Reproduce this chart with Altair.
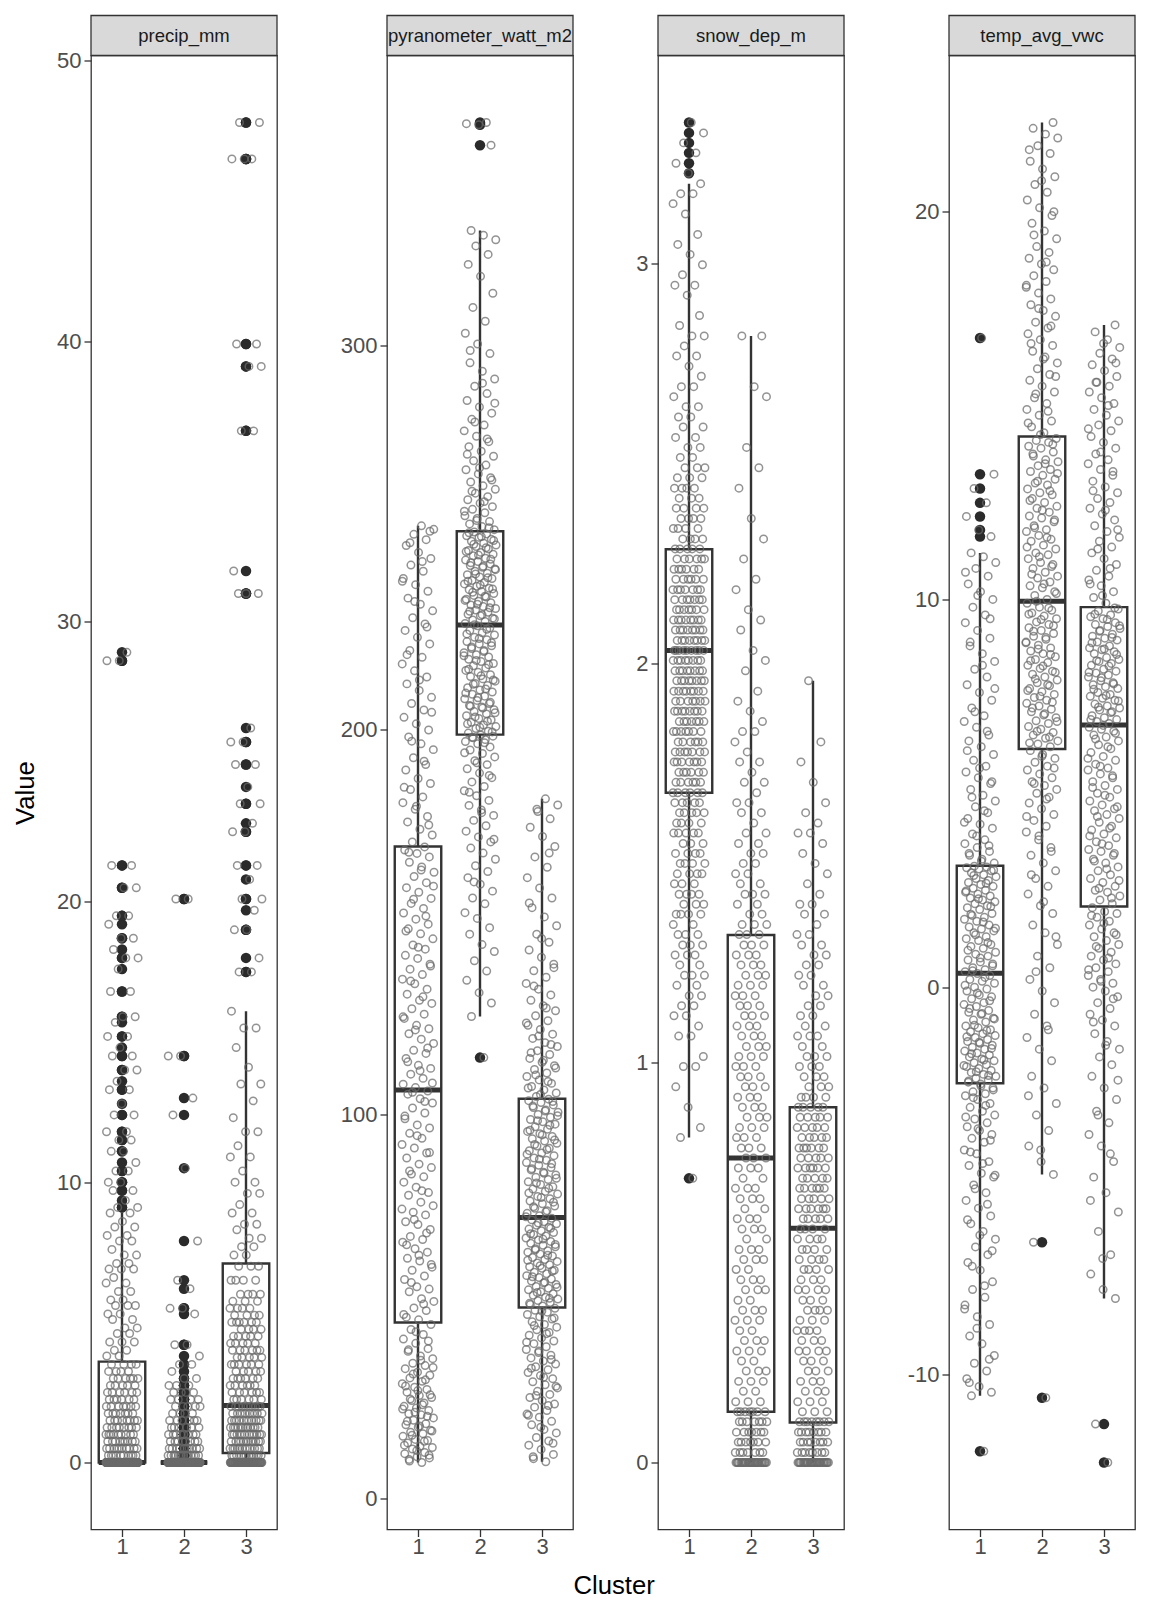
import altair as alt
import pandas as pd

variables = ["precip_mm", "pyranometer_watt_m2", "snow_dep_m", "temp_avg_vwc"]
clusters = [1, 2, 3]

y_ticks = {
    "precip_mm": [0, 10, 20, 30, 40, 50],
    "pyranometer_watt_m2": [0, 100, 200, 300],
    "snow_dep_m": [0, 1, 2, 3],
    "temp_avg_vwc": [-10, 0, 10, 20],
}

# boxplot statistics per variable, for clusters 1, 2, 3
whisker_low = {
    "precip_mm": [0, 0, 0],
    "pyranometer_watt_m2": [9.4, 125.4, 9.6],
    "snow_dep_m": [0.813, 0, 0],
    "temp_avg_vwc": [-10.54, -4.83, -8.03],
}
q1 = {
    "precip_mm": [0, 0, 0.34],
    "pyranometer_watt_m2": [45.8, 198.7, 49.7],
    "snow_dep_m": [1.676, 0.127, 0.100],
    "temp_avg_vwc": [-2.48, 6.14, 2.08],
}
median = {
    "precip_mm": [0, 0, 2.03],
    "pyranometer_watt_m2": [106.3, 227.2, 73.1],
    "snow_dep_m": [2.032, 0.762, 0.586],
    "temp_avg_vwc": [0.36, 9.95, 6.76],
}
q3 = {
    "precip_mm": [3.6, 0, 7.1],
    "pyranometer_watt_m2": [169.6, 251.6, 104.0],
    "snow_dep_m": [2.285, 1.320, 0.889],
    "temp_avg_vwc": [3.13, 14.2, 9.8],
}
whisker_high = {
    "precip_mm": [8.9, 0, 16.1],
    "pyranometer_watt_m2": [253.0, 329.8, 182.0],
    "snow_dep_m": [3.200, 2.819, 1.956],
    "temp_avg_vwc": [11.2, 22.3, 17.08],
}


def rep(pairs):
    out = []
    for v, n in pairs:
        out += [v] * n
    return out


precip_c1 = rep([(0, 200), (0.25, 10), (0.5, 10), (0.75, 9), (1.0, 9), (1.25, 8), (1.5, 8),
                 (1.75, 7), (2.0, 7), (2.25, 6), (2.5, 6), (2.75, 5), (3.0, 6), (3.25, 4),
                 (3.5, 4), (3.8, 2), (4.0, 2), (4.3, 3), (4.6, 2), (4.8, 2), (5.1, 2), (5.3, 2),
                 (5.6, 3), (5.8, 2), (6.1, 2), (6.4, 2), (6.6, 1), (6.9, 3), (7.1, 2), (7.4, 2),
                 (7.6, 1), (7.9, 2), (8.1, 2), (8.4, 2), (8.6, 1), (8.9, 2), (9.1, 2), (9.35, 1),
                 (9.7, 2), (10.0, 2), (10.4, 2), (10.7, 1), (11.1, 2), (11.5, 2), (11.8, 2),
                 (12.4, 2), (12.8, 1), (13.3, 2), (13.6, 1), (14.0, 2), (14.5, 2), (14.8, 1),
                 (15.2, 2), (15.7, 1), (15.9, 2), (16.8, 2), (17.6, 1), (18.0, 2), (18.3, 1),
                 (18.7, 2), (19.2, 1), (19.5, 2), (20.5, 2), (21.3, 2), (28.6, 2), (28.9, 1)])
precip_c2 = rep([(0, 320), (0.25, 14), (0.5, 10), (0.75, 8), (1.0, 8), (1.25, 6), (1.5, 6),
                 (1.75, 4), (2.0, 5), (2.25, 4), (2.5, 4), (2.75, 3), (3.0, 2), (3.25, 1),
                 (3.5, 2), (3.8, 1), (4.2, 2), (5.3, 1), (5.5, 2), (6.2, 1), (6.5, 1), (7.9, 1),
                 (10.5, 1), (12.4, 1), (13.0, 1), (14.5, 2), (20.1, 2)])
precip_c3 = rep([(0, 70), (0.25, 12), (0.5, 12), (0.75, 12), (1.0, 12), (1.25, 12), (1.5, 11),
                 (1.75, 10), (2.0, 10), (2.25, 6), (2.5, 6), (2.75, 6), (3.0, 6), (3.25, 5),
                 (3.5, 6), (3.75, 5), (4.0, 6), (4.25, 5), (4.5, 5), (4.75, 4), (5.0, 6),
                 (5.25, 4), (5.5, 4), (5.75, 3), (6.0, 4), (6.5, 4), (7.0, 3), (7.4, 2), (7.7, 2),
                 (8.0, 2), (8.3, 1), (8.5, 2), (8.9, 2), (9.2, 1), (9.6, 2), (10.0, 2), (10.4, 1),
                 (10.9, 2), (11.3, 1), (11.8, 2), (12.3, 1), (12.9, 1), (13.5, 2), (14.1, 1),
                 (14.8, 1), (15.5, 2), (16.1, 1), (17.5, 2), (18.0, 1), (19.0, 2), (19.7, 1),
                 (20.1, 2), (20.8, 1), (21.3, 2), (22.5, 2), (22.8, 1), (23.5, 2), (24.1, 1),
                 (24.9, 2), (25.7, 2), (26.2, 1), (31.0, 3), (31.8, 1), (36.8, 2), (39.1, 2),
                 (39.9, 2), (46.5, 3), (47.8, 2)])

pyr_c1 = [9.4, 9.8, 10.6, 10.9, 11.7, 12.0, 12.9, 13.3, 13.6, 14.5, 15.1, 15.4, 16.2, 16.9,
          17.3, 17.8, 18.6, 19.2, 19.5, 20.4, 21.0, 21.8, 22.1, 22.9, 23.6, 24.0, 24.9, 25.5,
          26.3, 26.8, 27.7, 28.4, 29.0, 29.9, 30.5, 31.4, 32.1, 32.9, 33.8, 34.6, 35.2, 36.4,
          37.1, 38.3, 39.0, 40.4, 41.5, 42.7, 44.0, 45.3,
          46.5, 47.2, 48.9, 49.6, 51.3, 52.0, 53.8, 54.5, 55.1, 57.0, 57.9, 59.4, 60.2, 61.8,
          62.5, 64.1, 65.0, 66.7, 67.4, 68.2, 70.0, 71.3, 72.0, 73.8, 74.5, 76.2, 77.1, 78.9,
          79.6, 81.0, 82.3, 83.7, 84.4, 86.1, 87.0, 88.6, 89.9, 91.2, 92.1, 93.7, 95.0, 96.4,
          97.2, 98.8, 100.3, 101.6, 102.9, 104.0, 105.2, 106.0,
          106.9, 107.8, 109.3, 110.4, 111.9, 112.7, 114.5, 115.8, 116.6, 118.4, 119.5, 120.9,
          122.2, 123.1, 124.9, 126.0, 127.4, 128.8, 129.6, 131.2, 132.5, 133.9, 135.1, 136.3,
          137.7, 139.0, 140.5, 141.3, 142.9, 144.0, 145.6, 146.9, 148.2, 149.4, 150.7, 152.3,
          153.5, 154.8, 156.1, 157.7, 158.9, 160.2, 161.8, 162.9, 164.3, 165.5, 166.9, 167.8,
          168.7, 169.5,
          170.8, 172.6, 174.1, 176.0, 177.4, 179.3, 181.0, 182.5, 184.4, 186.0, 187.3, 189.5,
          190.9, 192.7, 194.8, 196.3, 198.1, 199.9, 201.5, 203.2, 205.1, 206.8, 208.4, 210.2,
          211.9, 213.7, 215.3, 217.1, 218.8, 220.6, 222.3, 224.0, 225.8, 227.5, 229.1, 230.9,
          232.6, 234.2, 236.0, 237.7, 239.3, 241.2, 242.8, 244.5, 246.1, 247.9, 249.4, 250.8,
          252.1, 253.0,
          10.2, 11.3, 12.5, 13.9, 14.9, 16.5, 17.6, 18.9, 20.1, 21.4, 22.5, 23.3, 24.4, 25.9,
          27.0, 28.1, 29.3, 30.9, 32.4, 34.1, 36.0, 38.7, 41.0, 43.4, 47.9, 50.6, 56.2, 60.9,
          63.3, 66.0, 69.1, 72.6, 75.3, 80.1, 85.2, 90.0, 94.4, 99.5, 103.3, 105.7, 108.1,
          111.3, 113.6, 117.2, 121.9, 125.3, 130.5, 134.6, 138.5, 143.4, 147.6, 151.5, 155.9,
          159.3, 163.5, 168.1, 175.2, 180.1, 185.0, 191.8, 197.0, 204.5, 212.9, 219.5, 226.7,
          233.3, 238.6, 243.7, 248.6, 251.6]
pyr_c2 = [114.7, 125.4, 128.9, 131.6, 134.8, 137.2, 139.9, 142.3, 144.1, 146.8, 148.5, 150.9,
          152.4, 154.7, 156.2, 158.0, 159.8, 161.5, 163.1, 164.6, 166.3, 167.9, 169.2, 170.8,
          172.1, 173.6, 175.0, 176.4, 177.7, 179.1, 180.3, 181.6, 182.8, 184.1, 185.2, 186.4,
          187.5, 188.7, 189.8, 190.9, 191.9, 192.9, 193.8, 194.7, 195.5, 196.3, 196.9, 197.4,
          197.9, 198.3, 198.6,
          199.1, 199.6, 200.3, 200.8, 201.2, 201.9, 202.5, 202.9, 203.6, 204.1, 204.7, 205.2,
          205.9, 206.3, 206.8, 207.6, 208.0, 208.7, 209.2, 209.8, 210.3, 210.9, 211.5, 212.0,
          212.6, 213.2, 213.8, 214.3, 214.9, 215.4, 216.0, 216.6, 217.2, 217.7, 218.3, 218.9,
          219.5, 220.0, 220.6, 221.1, 221.8, 222.3, 222.9, 223.4, 224.0, 224.6, 225.2, 225.8,
          226.4, 227.0,
          227.6, 228.1, 228.5, 229.0, 229.6, 230.0, 230.5, 231.1, 231.5, 232.0, 232.4, 233.0,
          233.4, 233.9, 234.5, 234.9, 235.4, 235.9, 236.4, 236.8, 237.3, 237.9, 238.3, 238.8,
          239.3, 239.7, 240.3, 240.7, 241.2, 241.8, 242.2, 242.7, 243.1, 243.7, 244.1, 244.6,
          245.2, 245.6, 246.1, 246.6, 247.0, 247.6, 248.0, 248.5, 249.0, 249.5, 250.0, 250.4,
          250.9, 251.4,
          252.0, 252.8, 253.5, 254.1, 254.9, 255.6, 256.4, 257.3, 258.0, 258.9, 259.8, 260.6,
          261.5, 262.5, 263.4, 264.4, 265.5, 266.5, 267.6, 268.8, 269.9, 271.1, 272.4, 273.6,
          274.9, 276.3, 277.7, 279.2, 280.7, 282.3, 283.9, 285.6, 287.4, 289.3, 291.2, 293.2,
          295.4, 297.8, 300.3, 303.1, 306.2, 309.8, 313.5, 317.9, 321.0, 323.6, 325.8, 327.4,
          328.6, 329.8, 352.0, 357.3, 357.6, 357.9,
          160.4, 171.5, 178.4, 183.7, 188.1, 191.4, 194.0, 196.6, 198.0, 199.4, 200.6, 201.5,
          202.2, 203.3, 204.4, 205.6, 206.1, 207.1, 208.3, 209.5, 210.6, 211.8, 212.9, 214.0,
          215.7, 216.9, 218.0, 219.2, 220.3, 221.5, 222.6, 223.7, 224.9, 226.1, 227.3, 228.8,
          229.9, 230.8, 231.7, 232.6, 233.6, 234.7, 235.7, 236.6, 237.6, 238.6, 239.5, 240.5,
          241.6, 242.5, 243.4, 244.3, 245.4, 246.3, 247.3, 248.2, 249.2, 250.2, 251.2, 252.5,
          254.4, 256.8, 259.3, 262.0, 264.9, 268.1, 271.6, 275.6, 280.0, 284.9, 290.1, 298.6]
pyr_c3 = [9.6, 10.4, 11.5, 12.8, 13.9, 15.0, 15.9, 17.1, 18.0, 19.2, 20.1, 21.2, 22.0, 22.9,
          23.8, 24.6, 25.5, 26.3, 27.1, 27.9, 28.8, 29.6, 30.4, 31.2, 32.0, 32.8, 33.5, 34.3,
          35.0, 35.8, 36.6, 37.3, 38.0, 38.8, 39.5, 40.3, 41.0, 41.8, 42.5, 43.2, 43.9, 44.6,
          45.3, 46.0, 46.7, 47.3, 47.9, 48.5, 49.0, 49.5,
          50.1, 50.5, 51.0, 51.5, 51.9, 52.4, 52.9, 53.3, 53.8, 54.3, 54.7, 55.2, 55.7, 56.1,
          56.6, 57.1, 57.5, 58.0, 58.5, 58.9, 59.4, 59.9, 60.3, 60.8, 61.3, 61.7, 62.2, 62.7,
          63.1, 63.6, 64.1, 64.5, 65.0, 65.5, 65.9, 66.4, 66.9, 67.3, 67.8, 68.3, 68.7, 69.2,
          69.7, 70.1, 70.6, 71.1, 71.5, 72.0, 72.5, 72.9,
          73.6, 74.2, 74.9, 75.5, 76.1, 76.7, 77.4, 78.0, 78.6, 79.2, 79.9, 80.5, 81.1, 81.7,
          82.4, 83.0, 83.6, 84.2, 84.9, 85.5, 86.1, 86.7, 87.4, 88.0, 88.6, 89.2, 89.9, 90.5,
          91.1, 91.7, 92.4, 93.0, 93.6, 94.2, 94.9, 95.5, 96.1, 96.7, 97.4, 98.0, 98.6, 99.2,
          99.9, 100.5, 101.1, 101.7, 102.4, 103.0, 103.5, 103.9,
          104.6, 105.5, 106.3, 107.2, 108.0, 108.9, 109.8, 110.7, 111.6, 112.6, 113.5, 114.5,
          115.5, 116.5, 117.6, 118.6, 119.7, 120.8, 122.0, 123.1, 124.3, 125.6, 126.9, 128.2,
          129.6, 131.0, 132.5, 134.0, 135.6, 137.3, 139.0, 140.8, 142.7, 144.7, 146.8, 149.0,
          151.3, 153.7, 156.2, 158.8, 161.5, 164.2, 166.9, 169.6, 172.2, 174.6, 176.8, 178.7,
          180.4, 182.0,
          10.9, 14.4, 18.6, 21.7, 24.2, 26.8, 29.2, 31.6, 33.9, 36.2, 38.4, 40.7, 42.9, 45.0,
          47.0, 48.8, 50.8, 52.1, 53.6, 55.0, 56.3, 57.7, 59.2, 60.6, 62.0, 63.3, 64.7, 66.1,
          67.5, 68.9, 70.3, 71.7, 73.3, 74.6, 75.9, 77.1, 78.3, 79.5, 80.7, 82.1, 83.3, 84.6,
          85.8, 87.1, 88.3, 89.6, 90.8, 92.1, 93.3, 94.6, 95.8, 97.1, 98.3, 99.6, 100.8, 102.1,
          103.3, 105.1, 106.8, 108.5, 110.2, 112.0, 114.0, 116.0, 118.1, 120.3, 123.7, 127.6,
          133.3, 138.1, 145.7, 154.9, 167.9, 179.3]

snow_c1 = rep([(0.711, 1), (0.813, 1), (0.838, 1), (0.889, 1), (0.940, 1), (0.991, 2),
               (1.016, 1), (1.067, 2), (1.092, 1), (1.118, 2), (1.143, 2), (1.168, 2),
               (1.194, 2), (1.219, 3), (1.245, 2), (1.270, 3), (1.295, 3), (1.321, 3),
               (1.346, 2), (1.372, 4), (1.397, 3), (1.422, 4), (1.448, 3), (1.473, 4),
               (1.499, 4), (1.524, 4), (1.549, 3), (1.575, 5), (1.600, 4), (1.626, 5),
               (1.651, 5), (1.676, 6), (1.702, 6), (1.727, 6), (1.753, 7), (1.778, 7),
               (1.803, 6), (1.829, 7), (1.854, 7), (1.880, 8), (1.905, 7), (1.930, 8),
               (1.956, 8), (1.981, 8), (2.007, 8), (2.032, 9), (2.057, 8), (2.083, 8),
               (2.108, 8), (2.134, 7), (2.159, 7), (2.184, 7), (2.210, 6), (2.235, 6),
               (2.261, 6), (2.286, 5), (2.311, 4), (2.337, 4), (2.362, 4), (2.388, 4),
               (2.413, 3), (2.438, 4), (2.464, 3), (2.489, 3), (2.515, 2), (2.540, 2),
               (2.565, 2), (2.591, 2), (2.616, 2), (2.642, 2), (2.667, 1), (2.692, 2),
               (2.718, 1), (2.743, 1), (2.769, 2), (2.794, 1), (2.819, 2), (2.845, 1),
               (2.870, 1), (2.921, 1), (2.946, 2), (2.972, 1), (2.997, 1), (3.023, 1),
               (3.048, 1), (3.073, 1), (3.124, 1), (3.150, 1), (3.175, 2), (3.200, 1),
               (3.226, 1), (3.251, 1), (3.277, 1), (3.302, 1), (3.327, 1), (3.353, 1)])
snow_c2 = rep([(0, 30), (0.025, 7), (0.051, 7), (0.076, 7), (0.102, 7), (0.127, 7),
               (0.152, 3), (0.178, 2), (0.203, 3), (0.229, 3), (0.254, 2), (0.279, 3),
               (0.305, 3), (0.330, 2), (0.356, 3), (0.381, 3), (0.406, 2), (0.432, 3),
               (0.457, 3), (0.483, 2), (0.508, 3), (0.533, 3), (0.559, 2), (0.584, 3),
               (0.610, 3), (0.635, 2), (0.660, 3), (0.686, 3), (0.711, 2), (0.737, 3),
               (0.762, 3), (0.787, 3), (0.813, 3), (0.838, 3), (0.864, 3), (0.889, 3),
               (0.914, 3), (0.940, 3), (0.965, 3), (0.991, 3), (1.016, 3), (1.041, 3),
               (1.067, 3), (1.092, 3), (1.118, 3), (1.143, 3), (1.168, 3), (1.194, 3),
               (1.219, 3), (1.245, 3), (1.270, 3), (1.295, 3), (1.321, 3), (1.346, 3),
               (1.372, 2), (1.397, 2), (1.422, 3), (1.448, 2), (1.473, 2), (1.499, 2),
               (1.524, 2), (1.549, 2), (1.575, 2), (1.600, 1), (1.626, 2), (1.651, 2),
               (1.676, 1), (1.702, 2), (1.727, 1), (1.753, 2), (1.778, 1), (1.803, 1),
               (1.829, 2), (1.854, 1), (1.880, 1), (1.905, 1), (1.930, 1), (1.981, 1),
               (2.007, 1), (2.032, 1), (2.083, 1), (2.108, 1), (2.134, 1), (2.184, 1),
               (2.210, 1), (2.261, 1), (2.311, 1), (2.362, 1), (2.438, 1), (2.489, 1),
               (2.540, 1), (2.667, 1), (2.692, 1), (2.819, 2)])
snow_c3 = rep([(0, 30), (0.025, 8), (0.051, 8), (0.076, 8), (0.102, 8), (0.127, 3),
               (0.152, 3), (0.178, 3), (0.203, 3), (0.229, 3), (0.254, 3), (0.279, 4),
               (0.305, 3), (0.330, 4), (0.356, 3), (0.381, 4), (0.406, 3), (0.432, 4),
               (0.457, 3), (0.483, 4), (0.508, 4), (0.533, 4), (0.559, 4), (0.584, 4),
               (0.610, 5), (0.635, 6), (0.660, 5), (0.686, 6), (0.711, 5), (0.737, 6),
               (0.762, 5), (0.787, 6), (0.813, 5), (0.838, 5), (0.864, 5), (0.889, 5),
               (0.914, 4), (0.940, 3), (0.965, 3), (0.991, 3), (1.016, 3), (1.041, 2),
               (1.067, 3), (1.092, 2), (1.118, 2), (1.143, 2), (1.168, 2), (1.194, 2),
               (1.219, 2), (1.245, 2), (1.270, 2), (1.295, 2), (1.321, 2), (1.346, 1),
               (1.372, 2), (1.397, 2), (1.422, 1), (1.448, 1), (1.473, 1), (1.499, 1),
               (1.524, 1), (1.549, 1), (1.575, 2), (1.600, 1), (1.626, 1), (1.651, 1),
               (1.702, 1), (1.753, 1), (1.803, 1), (1.956, 1)])

temp_c1 = [-11.97, -10.54, -10.45, -10.3, -10.1, -9.9, -9.7, -9.5, -9.2, -9.0, -8.7, -8.5,
           -8.2, -8.0, -7.8, -7.6, -7.3, -7.1, -6.9, -6.7, -6.5, -6.3, -6.1, -5.9, -5.7, -5.5,
           -5.3, -5.1, -4.9, -4.8, -4.6, -4.5, -4.3, -4.2, -4.0, -3.9, -3.8, -3.7, -3.6, -3.5,
           -3.4, -3.3, -3.2, -3.1, -3.0, -2.9, -2.8, -2.75, -2.7, -2.6, -2.5,
           -2.45, -2.4, -2.35, -2.3, -2.25, -2.2, -2.15, -2.1, -2.05, -2.0, -1.95, -1.9, -1.85,
           -1.8, -1.75, -1.7, -1.65, -1.6, -1.55, -1.5, -1.45, -1.4, -1.35, -1.3, -1.25, -1.2,
           -1.15, -1.1, -1.05, -1.0, -0.9, -0.85, -0.8, -0.7, -0.65, -0.6, -0.5, -0.45, -0.4,
           -0.3, -0.25, -0.2, -0.1, -0.05, 0.0, 0.1, 0.15, 0.2, 0.3, 0.35,
           0.4, 0.45, 0.5, 0.6, 0.65, 0.7, 0.8, 0.85, 0.9, 1.0, 1.05, 1.1, 1.2, 1.25, 1.3, 1.4,
           1.45, 1.5, 1.55, 1.6, 1.7, 1.75, 1.8, 1.85, 1.9, 2.0, 2.05, 2.1, 2.15, 2.2, 2.25,
           2.3, 2.35, 2.4, 2.45, 2.5, 2.55, 2.6, 2.65, 2.7, 2.75, 2.8, 2.85, 2.9, 2.95, 3.0,
           3.05, 3.08, 3.1, 3.12,
           3.2, 3.3, 3.4, 3.5, 3.6, 3.7, 3.8, 3.95, 4.1, 4.2, 4.35, 4.5, 4.65, 4.8, 4.95, 5.1,
           5.25, 5.4, 5.55, 5.7, 5.85, 6.0, 6.2, 6.35, 6.5, 6.7, 6.85, 7.0, 7.2, 7.4, 7.6, 7.8,
           8.0, 8.2, 8.4, 8.6, 8.8, 9.0, 9.2, 9.4, 9.6, 9.8, 10.0, 10.2, 10.4, 10.6, 10.8,
           10.95, 11.1, 11.2, 11.62, 11.79, 12.14, 12.49, 12.86, 13.23, 16.74,
           -10.2, -9.6, -8.8, -8.3, -7.7, -7.2, -6.8, -6.4, -6.0, -5.6, -5.2, -4.85, -4.55,
           -4.25, -3.95, -3.65, -3.35, -3.05, -2.85, -2.65, -2.55, -2.42, -2.28, -2.18, -2.02,
           -1.88, -1.72, -1.58, -1.42, -1.28, -1.12, -0.98, -0.82, -0.68, -0.55, -0.35, -0.15,
           0.05, 0.25, 0.42, 0.55, 0.75, 0.95, 1.15, 1.35, 1.52, 1.68, 1.88, 2.08, 2.28, 2.48,
           2.68, 2.88, 3.02, 3.25, 3.45, 3.65, 3.9, 4.25, 4.55, 4.9, 5.3, 5.65, 6.1, 6.6, 7.1,
           7.7, 8.3, 8.9, 9.5, 10.1, 10.7]
temp_c2 = [-10.59, -6.58, -4.83, -4.5, -4.1, -3.7, -3.3, -3.0, -2.6, -2.3, -1.9, -1.6, -1.3,
           -1.0, -0.7, -0.4, -0.1, 0.2, 0.5, 0.8, 1.1, 1.4, 1.6, 1.9, 2.1, 2.4, 2.6, 2.8, 3.0,
           3.2, 3.4, 3.6, 3.8, 4.0, 4.15, 4.3, 4.45, 4.6, 4.75, 4.9, 5.0, 5.1, 5.2, 5.3, 5.4,
           5.5, 5.6, 5.7, 5.8, 5.9, 6.0, 6.1,
           6.2, 6.27, 6.35, 6.42, 6.5, 6.57, 6.65, 6.72, 6.8, 6.87, 6.95, 7.02, 7.1, 7.17, 7.25,
           7.32, 7.4, 7.47, 7.55, 7.62, 7.7, 7.77, 7.85, 7.92, 8.0, 8.07, 8.15, 8.22, 8.3, 8.37,
           8.45, 8.52, 8.6, 8.67, 8.75, 8.82, 8.9, 8.97, 9.05, 9.12, 9.2, 9.27, 9.35, 9.42, 9.5,
           9.57, 9.65, 9.72, 9.8, 9.9,
           10.0, 10.1, 10.2, 10.3, 10.35, 10.45, 10.55, 10.6, 10.7, 10.8, 10.9, 10.95, 11.05,
           11.15, 11.2, 11.3, 11.4, 11.5, 11.55, 11.65, 11.75, 11.8, 11.9, 12.0, 12.1, 12.15,
           12.25, 12.35, 12.4, 12.5, 12.6, 12.7, 12.75, 12.85, 12.95, 13.0, 13.1, 13.2, 13.3,
           13.35, 13.45, 13.55, 13.6, 13.7, 13.8, 13.9, 13.95, 14.05, 14.1, 14.15,
           14.3, 14.45, 14.6, 14.75, 14.9, 15.05, 15.2, 15.35, 15.5, 15.65, 15.8, 15.95, 16.1,
           16.25, 16.4, 16.55, 16.7, 16.85, 17.0, 17.15, 17.3, 17.45, 17.6, 17.75, 17.9, 18.05,
           18.2, 18.35, 18.5, 18.65, 18.8, 18.95, 19.1, 19.3, 19.5, 19.7, 19.9, 20.1, 20.3,
           20.5, 20.7, 20.9, 21.1, 21.3, 21.5, 21.7, 21.9, 22.0, 22.15, 22.3,
           -4.2, -2.8, -1.1, 0.4, 1.3, 2.2, 2.9, 3.5, 3.9, 4.4, 4.85, 5.25, 5.65, 5.95, 6.3,
           6.45, 6.6, 6.85, 7.05, 7.2, 7.35, 7.5, 7.65, 7.8, 7.95, 8.12, 8.28, 8.42, 8.58,
           8.72, 8.88, 9.02, 9.18, 9.32, 9.48, 9.62, 9.78, 9.95, 10.15, 10.4, 10.65, 10.85,
           11.1, 11.35, 11.6, 11.85, 12.05, 12.3, 12.55, 12.8, 13.05, 13.25, 13.5, 13.75, 14.0,
           14.25, 14.55, 14.85, 15.3, 15.75, 16.2, 16.6, 17.05, 17.5, 18.1, 18.7, 19.4, 20.0,
           20.8, 21.6]
temp_c3 = [-12.26, -11.27, -8.03, -7.8, -7.4, -6.9, -6.3, -5.8, -5.3, -4.9, -4.5, -4.1, -3.8,
           -3.5, -3.2, -2.9, -2.6, -2.3, -2.0, -1.8, -1.6, -1.4, -1.2, -1.0, -0.85, -0.7,
           -0.55, -0.4, -0.25, -0.1, 0.0, 0.1, 0.2, 0.3, 0.4, 0.5, 0.6, 0.7, 0.8, 0.9, 1.0,
           1.1, 1.2, 1.3, 1.4, 1.5, 1.6, 1.7, 1.8, 1.9, 1.95, 2.05,
           2.15, 2.25, 2.35, 2.45, 2.5, 2.6, 2.7, 2.8, 2.9, 3.0, 3.1, 3.2, 3.3, 3.4, 3.5, 3.55,
           3.65, 3.75, 3.85, 3.95, 4.05, 4.15, 4.25, 4.35, 4.45, 4.55, 4.6, 4.7, 4.8, 4.9, 5.0,
           5.1, 5.2, 5.3, 5.4, 5.5, 5.6, 5.65, 5.75, 5.85, 5.95, 6.05, 6.15, 6.25, 6.35, 6.45,
           6.5, 6.6, 6.65, 6.7,
           6.8, 6.85, 6.9, 6.95, 7.0, 7.1, 7.15, 7.2, 7.25, 7.3, 7.4, 7.45, 7.5, 7.55, 7.6, 7.7,
           7.75, 7.8, 7.85, 7.9, 8.0, 8.05, 8.1, 8.15, 8.2, 8.3, 8.35, 8.4, 8.45, 8.5, 8.6,
           8.65, 8.7, 8.75, 8.8, 8.9, 8.95, 9.0, 9.05, 9.1, 9.2, 9.25, 9.3, 9.35, 9.4, 9.5,
           9.55, 9.6, 9.7, 9.75,
           9.9, 10.05, 10.2, 10.35, 10.5, 10.6, 10.75, 10.9, 11.05, 11.2, 11.35, 11.5, 11.6,
           11.75, 11.9, 12.05, 12.2, 12.35, 12.5, 12.6, 12.75, 12.9, 13.05, 13.2, 13.35, 13.5,
           13.6, 13.75, 13.9, 14.05, 14.2, 14.35, 14.5, 14.6, 14.75, 14.9, 15.05, 15.2, 15.35,
           15.5, 15.6, 15.75, 15.9, 16.05, 16.2, 16.35, 16.5, 16.7, 16.9, 17.08,
           -7.0, -5.5, -4.3, -3.3, -2.4, -1.5, -0.9, -0.3, 0.15, 0.45, 0.75, 1.05, 1.35, 1.65,
           1.85, 2.3, 2.55, 2.75, 3.05, 3.25, 3.45, 3.7, 3.9, 4.1, 4.4, 4.65, 4.95, 5.15, 5.45,
           5.7, 5.9, 6.2, 6.4, 6.55, 6.75, 6.9, 7.08, 7.22, 7.38, 7.52, 7.68, 7.82, 7.98, 8.12,
           8.28, 8.42, 8.58, 8.72, 8.88, 9.02, 9.18, 9.32, 9.48, 9.62, 9.78, 10.1, 10.4, 10.8,
           11.3, 11.8, 12.3, 12.8, 13.3, 13.8, 14.4, 15.0, 15.6, 16.1, 16.6]

observations = {
    "precip_mm": [precip_c1, precip_c2, precip_c3],
    "pyranometer_watt_m2": [pyr_c1, pyr_c2, pyr_c3],
    "snow_dep_m": [snow_c1, snow_c2, snow_c3],
    "temp_avg_vwc": [temp_c1, temp_c2, temp_c3],
}

# ---- tables built from the arrays above ----
rows, stat_rows = [], []
for var in variables:
    for k, c in enumerate(clusters):
        lo, hi = whisker_low[var][k], whisker_high[var][k]
        for v in observations[var][k]:
            rows.append({"variable": var, "cluster": c, "value": v,
                         "outlier": bool(v < lo or v > hi)})
        stat_rows.append({"variable": var, "cluster": c, "wlo": lo, "q1": q1[var][k],
                          "med": median[var][k], "q3": q3[var][k], "whi": hi})
points = pd.DataFrame(rows)
stats = pd.DataFrame(stat_rows)

FONT = "Liberation Sans"
PW, PH = 186, 1474
LINE = "#333333"


def panel(i, var):
    pts = points[points.variable == var]
    st = stats[stats.variable == var]
    strip_df = pd.DataFrame({"variable": [var]})
    vmin, vmax = pts.value.min(), pts.value.max()
    ex = 0.05 * (vmax - vmin)
    ysc = alt.Scale(domain=[vmin - ex, vmax + ex], nice=False, zero=False)
    xsc = alt.Scale(domain=[0.5, 3.5], nice=False, zero=False)
    xax = alt.Axis(values=clusters, format="d", title=None)
    yax = alt.Axis(values=y_ticks[var], labelExpr="toString(datum.value)",
                   title="Value" if i == 0 else None)

    def X(f):
        return alt.X(f, type="quantitative", scale=xsc, axis=xax)

    def Y(f):
        return alt.Y(f, type="quantitative", scale=ysc, axis=yax)

    base = alt.Chart(st).transform_calculate(
        xl="datum.cluster - 0.375", xr="datum.cluster + 0.375")
    whisk = base.mark_rule(color=LINE, strokeWidth=2.4).encode(
        x=X("cluster"), y=Y("wlo"), y2="whi:Q")
    box = base.mark_rect(fill="white", stroke=LINE, strokeWidth=2.4).encode(
        x=X("xl"), x2="xr:Q", y=Y("q1"), y2="q3:Q")
    med = base.mark_rule(color=LINE, strokeWidth=5).encode(
        x=X("xl"), x2="xr:Q", y=Y("med"))
    outl = alt.Chart(pts).transform_filter("datum.outlier").mark_circle(
        color="#2B2B2B", opacity=1, size=110).encode(x=X("cluster"), y=Y("value"))
    jit = alt.Chart(pts).transform_window(
        idx="row_number()", groupby=["cluster"]
    ).transform_calculate(
        xj="datum.cluster + ((datum.idx * 0.6180339887) % 1 - 0.5) * 0.52"
    ).mark_point(shape="circle", filled=False, color="#6A6A6A", strokeWidth=1.5,
                 opacity=0.72, size=56).encode(x=X("xj"), y=Y("value"))
    strip = alt.Chart(strip_df).mark_rect(fill="#D9D9D9", stroke=LINE, strokeWidth=1.3).encode(
        x=alt.value(0), x2=alt.value(PW), y=alt.value(-40), y2=alt.value(0))
    strip_txt = alt.Chart(strip_df).mark_text(
        font=FONT, fontSize=18.5, color="#1A1A1A", baseline="middle", align="center"
    ).encode(x=alt.value(PW / 2), y=alt.value(-20), text="variable:N")
    return alt.layer(whisk, box, med, outl, jit, strip, strip_txt).properties(
        width=PW, height=PH)


chart = alt.hconcat(*[panel(i, v) for i, v in enumerate(variables)], spacing=60).resolve_scale(
    x="independent", y="independent"
).properties(
    title=alt.TitleParams(text="Cluster", orient="bottom", anchor="middle", font=FONT,
                          fontSize=25.7, fontWeight="normal", color="black", dx=40, offset=16),
    padding={"left": 11, "top": 13.5, "right": 10, "bottom": 0},
    background="white",
).configure_view(
    stroke=LINE, strokeWidth=1.3
).configure_axis(
    grid=False, domain=False, tickColor=LINE, tickWidth=1.3, tickSize=7,
    labelColor="#4D4D4D", labelFont=FONT, labelFontSize=22,
    titleFont=FONT, titleFontSize=25.7, titleFontWeight="normal", titleColor="black",
    titlePadding=18,
).configure_axisX(
    labelPadding=0
).configure_axisY(
    labelPadding=3
)

chart.save("out.html", embed_options={"renderer": "svg", "actions": False})
